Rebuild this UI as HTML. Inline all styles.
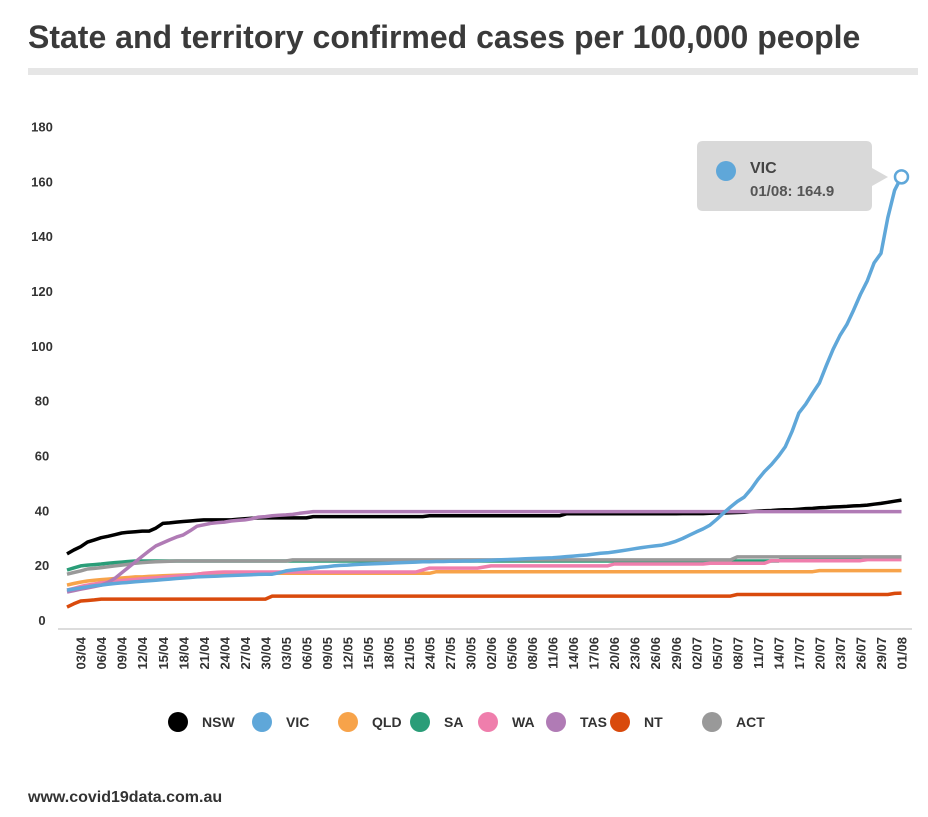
<!DOCTYPE html>
<html><head><meta charset="utf-8">
<style>
body{margin:0;background:#fff;width:928px;height:812px;overflow:hidden;font-family:"Liberation Sans",sans-serif;}
svg text{font-family:"Liberation Sans",sans-serif;}
</style></head>
<body>
<svg id="chart" width="928" height="812">
<text x="28" y="48" font-size="32" font-weight="bold" fill="#3a3a3a">State and territory confirmed cases per 100,000 people</text>
<rect x="28" y="68" width="890" height="7" fill="#e6e6e6"/>
<g id="yaxis"></g>
<line x1="58" y1="629" x2="912" y2="629" stroke="#d0d0d0" stroke-width="1.5"/>
<g id="xaxis"></g>
<g id="lines"></g>
<g id="tooltip">
<path d="M703 141 H866 Q872 141 872 147 V168 L888 177 L872 186 V205 Q872 211 866 211 H703 Q697 211 697 205 V147 Q697 141 703 141 Z" fill="#d9d9d9"/>
<circle cx="726" cy="171" r="10" fill="#5fa7d9"/>
<text x="750" y="173" font-size="16" font-weight="bold" fill="#444">VIC</text>
<text x="750" y="196" font-size="15" font-weight="bold" fill="#555">01/08: 164.9</text>
</g>
<g id="legend"></g>
<text x="28" y="802" font-size="16" font-weight="bold" fill="#333">www.covid19data.com.au</text>
</svg>
<script>
const seriesNames=["NSW","QLD","SA","WA","NT","ACT","TAS","VIC"];
const seriesColors=["#000000","#f7a34a","#2a9d78","#ef7eac","#d94a0c","#999999","#b07bb5","#5fa7d9"];
const yTicks=[0,20,40,60,80,100,120,140,160,180];
const nsw=[27.4,28.8,30,31.7,32.5,33.3,33.8,34.4,35,35.3,
35.5,35.7,35.7,36.8,38.5,38.7,39,39.2,39.4,39.6,
39.8,39.8,39.8,39.8,39.8,40,40.2,40.4,40.5,40.5,
40.5,40.5,40.5,40.5,40.5,40.5,41,41,41,41,
41,41,41,41,41,41,41,41,41,41,
41,41,41,41.3,41.3,41.3,41.3,41.3,41.3,41.3,
41.3,41.3,41.3,41.3,41.3,41.3,41.3,41.3,41.3,41.3,
41.3,41.3,41.3,42,42,42,42,42,42,42,
42,42,42,42,42,42,42,42,42,42,
42.1,42.1,42.1,42.1,42.2,42.3,42.3,42.4,42.5,42.6,
42.8,43,43.1,43.2,43.4,43.5,43.5,43.7,43.9,44,
44.2,44.3,44.5,44.6,44.7,44.9,45,45.2,45.5,45.8,
46.2,46.6,47];
const vic=[14.2,14.6,15,15.4,15.8,16,16.3,16.6,16.8,17,
17.2,17.4,17.6,17.8,18,18.2,18.4,18.6,18.8,19,
19.1,19.2,19.3,19.4,19.5,19.6,19.7,19.8,19.9,20,
20,20.5,21.2,21.5,21.8,22,22.2,22.5,22.7,23,
23.2,23.3,23.5,23.6,23.7,23.8,23.9,24,24.1,24.2,
24.3,24.4,24.5,24.5,24.6,24.6,24.7,24.7,24.8,24.8,
24.9,25,25.1,25.2,25.3,25.4,25.5,25.6,25.7,25.8,
25.9,26,26.2,26.4,26.6,26.8,27,27.3,27.6,27.8,
28.1,28.5,28.9,29.3,29.7,30,30.3,30.6,31.2,32,
33,34.2,35.4,36.5,37.9,40,42.3,44.5,46.5,48.1,
51,54.5,57.5,60,63,66.4,72,78.8,82,86,
89.7,96,102,107,111,116.3,122,127,133.5,137,
150,160,164.9];
const qld=[16,16.6,17.1,17.5,17.8,18,18.2,18.4,18.6,18.8,
19,19,19.2,19.3,19.4,19.5,19.6,19.7,19.8,20,
20.3,20.3,20.3,20.3,20.3,20.3,20.3,20.3,20.3,20.3,
20.3,20.3,20.3,20.3,20.3,20.3,20.3,20.3,20.3,20.3,
20.3,20.3,20.3,20.3,20.3,20.3,20.3,20.3,20.3,20.3,
20.3,20.3,20.3,20.3,20.9,20.9,20.9,20.9,20.9,20.9,
20.9,20.9,20.9,20.9,20.9,20.9,20.9,20.9,20.9,20.9,
20.9,20.9,20.9,20.9,20.9,20.9,20.9,20.9,20.9,20.9,
20.9,20.9,20.9,20.9,20.9,20.9,20.9,20.9,20.9,20.9,
20.9,20.9,20.9,20.9,20.9,20.9,20.9,20.9,20.9,20.9,
20.9,20.9,20.9,20.9,20.9,20.9,20.9,20.9,20.9,20.9,
21.3,21.3,21.3,21.3,21.3,21.3,21.3,21.3,21.3,21.3,
21.3,21.3,21.3];
const sa=[21.5,22.3,23,23.3,23.5,23.7,24,24.2,24.4,24.6,
24.8,24.8,24.8,24.8,24.8,24.8,24.8,24.8,24.8,24.8,
24.8,24.8,24.8,24.8,24.8,24.8,24.8,24.8,24.8,24.8,
24.8,24.8,24.8,24.8,24.8,24.8,24.8,24.8,24.8,24.8,
24.8,24.8,24.8,24.8,24.8,24.8,24.8,24.8,24.8,24.8,
24.8,24.8,24.8,24.8,24.8,24.8,24.8,24.8,24.8,24.8,
24.8,24.8,24.8,24.8,24.8,24.8,24.8,24.8,24.8,24.8,
24.8,24.8,24.8,24.8,24.8,24.8,24.8,24.8,24.8,24.8,
24.8,24.8,24.8,24.8,24.8,24.8,24.8,24.8,24.8,24.8,
24.8,24.8,24.8,24.8,24.8,24.8,24.8,24.8,24.8,24.8,
24.8,24.8,24.8,24.8,24.8,25.9,25.9,25.9,25.9,25.9,
25.9,25.9,25.9,25.9,25.9,25.9,25.9,25.9,25.9,25.9,
25.9,25.9,25.9];
const wa=[14.2,14.8,15.5,16,16.4,16.8,17.1,17.4,17.7,17.9,
18.1,18.3,18.5,18.7,18.9,19.1,19.3,19.5,19.7,20,
20.3,20.5,20.7,20.8,20.8,20.8,20.8,20.8,20.8,20.8,
20.8,20.8,20.8,20.8,20.8,20.8,20.8,20.8,20.8,20.8,
20.8,20.8,20.8,20.8,20.8,20.8,20.8,20.8,20.8,20.8,
20.8,20.8,21.5,22.2,22.2,22.2,22.2,22.2,22.2,22.2,
22.2,22.6,23,23,23,23,23,23,23,23,
23,23,23,23,23,23,23,23,23,23,
23.7,23.7,23.7,23.7,23.7,23.7,23.7,23.7,23.7,23.7,
23.7,23.7,23.7,23.7,24,24,24,24,24,24,
24,24,24,24.9,24.9,24.9,24.9,24.9,24.9,24.9,
24.9,24.9,24.9,24.9,24.9,24.9,24.9,25.3,25.3,25.3,
25.3,25.3,25.3];
const nt=[8,9.2,10.2,10.4,10.6,10.9,10.9,10.9,10.9,10.9,
10.9,10.9,10.9,10.9,10.9,10.9,10.9,10.9,10.9,10.9,
10.9,10.9,10.9,10.9,10.9,10.9,10.9,10.9,10.9,10.9,
12,12,12,12,12,12,12,12,12,12,
12,12,12,12,12,12,12,12,12,12,
12,12,12,12,12,12,12,12,12,12,
12,12,12,12,12,12,12,12,12,12,
12,12,12,12,12,12,12,12,12,12,
12,12,12,12,12,12,12,12,12,12,
12,12,12,12,12,12,12,12,12.6,12.6,
12.6,12.6,12.6,12.6,12.6,12.6,12.6,12.6,12.6,12.6,
12.6,12.6,12.6,12.6,12.6,12.6,12.6,12.6,12.6,12.6,
12.6,13,13.1];
const act=[20,20.6,21.2,21.9,22.1,22.4,22.7,23,23.3,23.6,
24,24.2,24.4,24.5,24.6,24.7,24.8,24.8,24.8,24.8,
24.8,24.8,24.8,24.8,24.8,24.8,24.8,24.8,24.8,24.8,
24.8,24.8,24.8,25.2,25.2,25.2,25.2,25.2,25.2,25.2,
25.2,25.2,25.2,25.2,25.2,25.2,25.2,25.2,25.2,25.2,
25.2,25.2,25.2,25.2,25.2,25.2,25.2,25.2,25.2,25.2,
25.2,25.2,25.2,25.2,25.2,25.2,25.2,25.2,25.2,25.2,
25.2,25.2,25.2,25.2,25.2,25.2,25.2,25.2,25.2,25.2,
25.2,25.2,25.2,25.2,25.2,25.2,25.2,25.2,25.2,25.2,
25.2,25.2,25.2,25.2,25.2,25.2,25.2,25.2,26.3,26.3,
26.3,26.3,26.3,26.3,26.3,26.3,26.3,26.3,26.3,26.3,
26.3,26.3,26.3,26.3,26.3,26.3,26.3,26.3,26.3,26.3,
26.3,26.3,26.3];
const tas=[13.5,14,14.5,15,15.5,16,17,18.5,20.5,22.5,
24.5,26.5,28.5,30.3,31.4,32.5,33.5,34.3,35.8,37.5,
38,38.5,38.8,39,39.4,39.6,39.8,40.2,40.8,41,
41.3,41.5,41.6,41.8,42.2,42.5,42.8,42.8,42.8,42.8,
42.8,42.8,42.8,42.8,42.8,42.8,42.8,42.8,42.8,42.8,
42.8,42.8,42.8,42.8,42.8,42.8,42.8,42.8,42.8,42.8,
42.8,42.8,42.8,42.8,42.8,42.8,42.8,42.8,42.8,42.8,
42.8,42.8,42.8,42.8,42.8,42.8,42.8,42.8,42.8,42.8,
42.8,42.8,42.8,42.8,42.8,42.8,42.8,42.8,42.8,42.8,
42.8,42.8,42.8,42.8,42.8,42.8,42.8,42.8,42.8,42.8,
42.8,42.8,42.8,42.8,42.8,42.8,42.8,42.8,42.8,42.8,
42.8,42.8,42.8,42.8,42.8,42.8,42.8,42.8,42.8,42.8,
42.8,42.8,42.8];
const seriesData=[nsw,qld,sa,wa,nt,act,tas,vic];

const NS='http://www.w3.org/2000/svg';
const X0=67, DX=6.84, Y0=629, KY=2.742;
function xScale(i){return X0+DX*i;}
function yScale(v){return Y0-v*KY;}
function dateLabel(i){
  const d=new Date(Date.UTC(2020,3,1+i));
  const dd=String(d.getUTCDate()).padStart(2,'0'), mm=String(d.getUTCMonth()+1).padStart(2,'0');
  return dd+'/'+mm;
}
function mk(tag,attrs,parent){const e=document.createElementNS(NS,tag);for(const k in attrs)e.setAttribute(k,attrs[k]);parent.appendChild(e);return e;}

const yg=document.getElementById('yaxis');
yTicks.forEach(t=>{
  const tx=mk('text',{x:42,y:yScale(t)-4,'font-size':13,'font-weight':'bold','fill':'#333','text-anchor':'middle'},yg);
  
  
  tx.textContent=t;
});

const xg=document.getElementById('xaxis');
const nPts=nsw.length;
for(let i=2;i<nPts;i+=3){
  const x=xScale(i);
  const tx=mk('text',{x:0,y:0,'font-size':13,'font-weight':'bold','fill':'#333','text-anchor':'end',transform:'translate('+(x+5)+',637) rotate(-90)'},xg);
  
  
  tx.textContent=dateLabel(i);
}

const lg=document.getElementById('lines');
seriesData.forEach((arr,s)=>{
  const d=arr.map((v,i)=>(i?'L':'M')+xScale(i).toFixed(1)+' '+yScale(v).toFixed(1)).join(' ');
  const p=mk('path',{d:d,fill:'none',stroke:seriesColors[s],'stroke-width':3.5,'stroke-linejoin':'round'},lg);
  
  
});
const last=vic.length-1;
const m=mk('circle',{cx:xScale(last),cy:yScale(vic[last]),r:6.5,fill:'#fff',stroke:'#5fa7d9','stroke-width':2.5},lg);



const legendOrder=["NSW","VIC","QLD","SA","WA","TAS","NT","ACT"];
const legendX=[178,262,348,420,488,556,620,712];
const leg=document.getElementById('legend');
legendOrder.forEach((n,k)=>{
  const s=seriesNames.indexOf(n);
  const g=mk('g',{},leg);
  
  
  mk('circle',{cx:legendX[k],cy:722,r:10,fill:seriesColors[s]},g);
  const t=mk('text',{x:legendX[k]+24,y:727,'font-size':14,'font-weight':'bold',fill:'#333'},g);
  t.textContent=n;
});
</script>
</body></html>
